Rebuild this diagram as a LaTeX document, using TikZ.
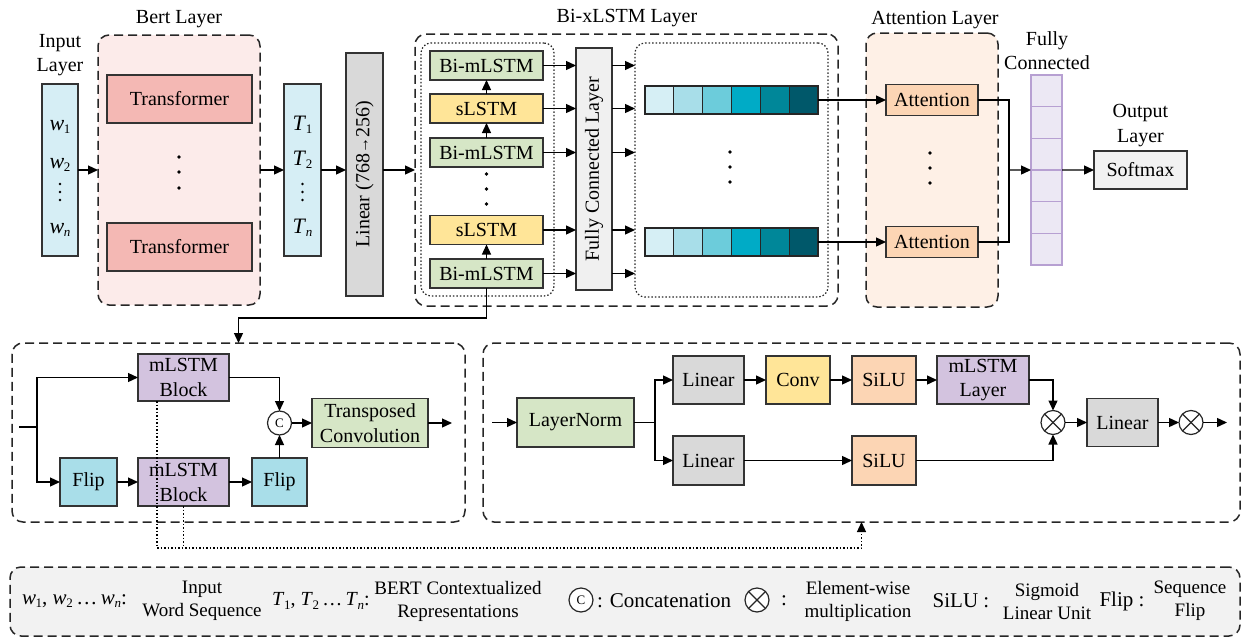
\documentclass[tikz,border=0pt]{standalone}
\usepackage{fontspec}
\setmainfont{Liberation Serif}
\usetikzlibrary{arrows.meta,calc}
\definecolor{pinkbg}{HTML}{FCEBEA}
\definecolor{trans}{HTML}{F4B8B4}
\definecolor{lblue}{HTML}{D6EEF5}
\definecolor{lgray}{HTML}{D9D9D9}
\definecolor{lgreen}{HTML}{D6E6C6}
\definecolor{lyellow}{HTML}{FFE598}
\definecolor{fcgray}{HTML}{F0F0F0}
\definecolor{peachbg}{HTML}{FEF0E6}
\definecolor{peach}{HTML}{FCD5B4}
\definecolor{fcpur}{HTML}{ECE8F4}
\definecolor{fcpurdraw}{HTML}{B7A0D2}
\definecolor{mpurple}{HTML}{D3C3DF}
\definecolor{flipcyan}{HTML}{A9DEE9}
\definecolor{legbg}{HTML}{F2F2F2}
\definecolor{ca}{HTML}{D6EFF5}
\definecolor{cb}{HTML}{A8DEE9}
\definecolor{cc}{HTML}{6CCCDB}
\definecolor{cd}{HTML}{00ABC6}
\definecolor{ce}{HTML}{008799}
\definecolor{cf}{HTML}{00586A}
\newcommand\vsub[2]{\textit{#1}\kern-0.3pt\raisebox{-0.35ex}{\fontsize{13}{13}\selectfont #2}}
\newcommand\smallarr{\raisebox{0.1ex}{\fontsize{16}{16}\selectfont →}}
\begin{document}
\begin{tikzpicture}[x=1pt,y=-1pt,
  every node/.style={font=\fontsize{20}{24}\selectfont, inner sep=0pt, outer sep=0pt},
  box/.style={draw=black!80, line width=1.1pt, rectangle, align=center},
  con/.style={line width=1.3pt, -{Triangle[length=10pt,width=9pt]}},
  ln/.style={line width=1.3pt},
  grp/.style={draw=black!85, line width=1.5pt, dash pattern=on 9pt off 5pt, rounded corners=11pt},
  dgrp/.style={draw=black!85, line width=1.2pt, dash pattern=on 1.5pt off 2pt, rounded corners=10pt},
  dotl/.style={line width=1.3pt, dash pattern=on 1.5pt off 2pt},
  bigdot/.style={circle, fill=black, minimum size=3.8pt},
  smalldot/.style={circle, fill=black, minimum size=2.6pt},
  cell/.style={draw=black!85, line width=1.1pt, minimum width=28.83pt, minimum height=28pt},
  fccell/.style={draw=fcpurdraw, fill=fcpur, line width=1.3pt, minimum width=31pt, minimum height=31.67pt},
  concat/.style={circle, draw=black!85, fill=white, line width=1.2pt, minimum size=24pt, font=\fontsize{13}{13}\selectfont},
  otimes/.style={circle, draw=black!85, fill=white, line width=1.2pt, minimum size=24pt,
    path picture={\draw[line width=1.2pt] ($(path picture bounding box.center)+(45:12pt)$) -- ($(path picture bounding box.center)+(225:12pt)$);
                  \draw[line width=1.2pt] ($(path picture bounding box.center)+(135:12pt)$) -- ($(path picture bounding box.center)+(-45:12pt)$);}},
  lgd/.style={font=\fontsize{19}{23}\selectfont, align=center},
  lgdm/.style={font=\fontsize{21}{23}\selectfont, align=center},
]
\useasboundingbox (0,0) rectangle (1253,643);

% ---------------- group boxes ----------------
\node[grp, fill=pinkbg, minimum width=162pt, minimum height=270pt] (bert) at (179,170) {};
\node (bertlab) at (179,19) {Bert Layer};
\node[grp, minimum width=423pt, minimum height=272pt] (bix) at (626.5,170) {};
\node (bixlab) at (627,18) {Bi-xLSTM Layer};
\node[dgrp, minimum width=133pt, minimum height=253pt] (ldot) at (487.5,169.5) {};
\node[dgrp, minimum width=193pt, minimum height=254pt] (rdot) at (731.5,170) {};
\node[grp, fill=peachbg, minimum width=132pt, minimum height=274pt] (attg) at (932,170) {};
\node (attlab) at (935,20) {Attention Layer};

% ---------------- input ----------------
\node[align=center, font=\fontsize{20}{24}\selectfont] (inlab) at (60,55) {Input\\Layer};
\node[box, fill=lblue, minimum width=36pt, minimum height=172pt] (inp) at (60,170) {};
\node[font=\fontsize{22}{24}\selectfont] (w1) at (60,127) {\vsub{w}{1}};
\node[font=\fontsize{22}{24}\selectfont] (w2) at (60,165) {\vsub{w}{2}};
\node[smalldot] (wd1) at (60,184) {};
\node[smalldot] (wd2) at (60,192) {};
\node[smalldot] (wd3) at (60,200) {};
\node[font=\fontsize{22}{24}\selectfont] (wn) at (60,230) {\vsub{w}{\textit{n}}};

% ---------------- bert ----------------
\node[box, fill=trans, minimum width=145pt, minimum height=48pt] (tr1) at (179.5,99) {Transformer};
\node[box, fill=trans, minimum width=145pt, minimum height=48pt] (tr2) at (179.5,247) {Transformer};
\node[bigdot] (bd1) at (179,157) {};
\node[bigdot] (bd2) at (179,172) {};
\node[bigdot] (bd3) at (179,188) {};

% ---------------- T ----------------
\node[box, fill=lblue, minimum width=37pt, minimum height=172pt] (tb) at (302.5,170) {};
\node[font=\fontsize{22}{24}\selectfont] (t1) at (302.5,125) {\vsub{T}{1}};
\node[font=\fontsize{22}{24}\selectfont] (t2) at (302.5,160) {\vsub{T}{2}};
\node[smalldot] (td1) at (302.5,184) {};
\node[smalldot] (td2) at (302.5,192) {};
\node[smalldot] (td3) at (302.5,200) {};
\node[font=\fontsize{22}{24}\selectfont] (tn) at (302.5,228) {\vsub{T}{\textit{n}}};

% ---------------- linear ----------------
\node[box, fill=lgray, minimum width=37pt, minimum height=243pt] (lin) at (364.5,174.5) {};
\node[rotate=90] (lintext) at (lin) {Linear (768\smallarr256)};

% ---------------- Bi-xLSTM stack ----------------
\node[box, fill=lgreen, minimum width=113pt, minimum height=29pt] (b1) at (486.5,65.5) {Bi-mLSTM};
\node[box, fill=lyellow, minimum width=113pt, minimum height=29pt] (s1) at (486.5,108.5) {sLSTM};
\node[box, fill=lgreen, minimum width=113pt, minimum height=29pt] (b2) at (486.5,152.5) {Bi-mLSTM};
\node[bigdot] (sd1) at (486.5,174) {};
\node[bigdot] (sd2) at (486.5,189) {};
\node[bigdot] (sd3) at (486.5,204) {};
\node[box, fill=lyellow, minimum width=113pt, minimum height=29pt] (s2) at (486.5,230) {sLSTM};
\node[box, fill=lgreen, minimum width=113pt, minimum height=29pt] (b3) at (486.5,273.5) {Bi-mLSTM};
\node[box, fill=fcgray, minimum width=36pt, minimum height=242pt] (fcl) at (594,169) {};
\node[rotate=90] (fcltext) at (fcl) {Fully Connected Layer};

% colour bars
\foreach \i/\c in {1/ca,2/cb,3/cc,4/cd,5/ce,6/cf}{
  \node[cell, fill=\c] (ta\i) at ({645+28.83*(\i-0.5)},100) {};
  \node[cell, fill=\c] (ub\i) at ({645+28.83*(\i-0.5)},242) {};
}
\node[bigdot] (rd1) at (730,152) {};
\node[bigdot] (rd2) at (730,167) {};
\node[bigdot] (rd3) at (730,182) {};

% ---------------- attention ----------------
\node[box, fill=peach, minimum width=92pt, minimum height=31pt] (att1) at (932,100) {Attention};
\node[box, fill=peach, minimum width=92pt, minimum height=31pt] (att2) at (932,242) {Attention};
\node[bigdot] (ad1) at (930,153) {};
\node[bigdot] (ad2) at (930,168) {};
\node[bigdot] (ad3) at (930,183) {};

% ---------------- fully connected + output ----------------
\node[align=center, font=\fontsize{20}{24}\selectfont] (fclab) at (1047,51) {Fully\\Connected};
\foreach \i in {1,...,6}{
  \node[fccell] (fc\i) at (1046.5,{75+31.67*(\i-0.5)}) {};
}
\node[align=center, font=\fontsize{20}{25}\selectfont] (outlab) at (1140.5,125.5) {Output\\Layer};
\node[box, fill=legbg, minimum width=93pt, minimum height=38pt] (soft) at (1140.5,170) {Softmax};

% ---------------- top connectors ----------------
\draw[con] (inp.east) -- (bert.west);
\draw[con] (bert.east) -- (tb.west);
\draw[con] (tb.east) -- (tb.east -| lin.west);
\draw[con] (lin.east |- tb.east) -- (bix.west);
\draw[con] (s1.north) -- (b1.south);
\draw[con] (b2.north) -- (s1.south);
\draw[con] (b3.north) -- (s2.south);
\foreach \n in {b1,s1,b2,s2,b3}{
  \draw[con] (\n.east) -- (\n.east -| fcl.west);
  \draw[con] (\n.east -| fcl.east) -- (\n.east -| rdot.west);
}
\draw[con] (ta6.east) -- (att1.west);
\draw[con] (ub6.east) -- (att2.west);
\coordinate (jn) at (1009,170);
\draw[ln] (att1.east) -| (jn);
\draw[ln] (att2.east) -| (jn);
\draw[con] (jn) -- (fc3.south west);
\draw[con] (fc3.south east) -- (soft.west);

% ---------------- bottom-left block ----------------
\node[grp, minimum width=453pt, minimum height=179pt] (blbox) at (238.5,432.5) {};
\draw[con] (b3.south) -- ++(0,30) -| (blbox.north);
\node[box, fill=mpurple, minimum width=91pt, minimum height=47pt, font=\fontsize{20}{25}\selectfont] (mt) at (183.5,377.5) {mLSTM\\Block};
\node[box, fill=flipcyan, minimum width=57pt, minimum height=48pt] (f1) at (88.5,482) {Flip};
\node[box, fill=mpurple, minimum width=91pt, minimum height=48pt, font=\fontsize{20}{25}\selectfont] (mb) at (183.5,482) {mLSTM\\Block};
\node[box, fill=flipcyan, minimum width=55pt, minimum height=48pt] (f2) at (279.5,482) {Flip};
\node[concat] (cat) at (279.5,423) {C};
\node[box, fill=lgreen, minimum width=116pt, minimum height=49pt, font=\fontsize{20}{25}\selectfont] (tc) at (370,423) {Transposed\\Convolution};
\coordinate (in1) at (19,427);
\coordinate (br1) at (37,427);
\draw[ln] (in1) -- (br1);
\draw[con] (br1) |- (mt.west);
\draw[con] (br1) |- (f1.west);
\draw[con] (f1) -- (mb);
\draw[con] (mb) -- (f2);
\draw[con] (mt.east) -| (cat.north);
\draw[con] (f2.north) -- (cat.south);
\draw[con] (cat) -- (tc);
\coordinate (out1) at (452,423);
\draw[con] (tc.east) -- (out1);

% ---------------- bottom-right block ----------------
\node[grp, minimum width=757pt, minimum height=179pt] (brbox) at (861.5,432.5) {};
\node[box, fill=lgreen, minimum width=117pt, minimum height=49pt] (lnorm) at (575.5,422.5) {LayerNorm};
\node[box, fill=lgray, minimum width=71pt, minimum height=48pt] (l1) at (708.5,380) {Linear};
\node[box, fill=lyellow, minimum width=64pt, minimum height=48pt] (cv) at (798,380) {Conv};
\node[box, fill=peach, minimum width=64pt, minimum height=48pt] (si1) at (884,380) {SiLU};
\node[box, fill=mpurple, minimum width=92pt, minimum height=48pt, font=\fontsize{20}{24}\selectfont] (ml) at (983,380) {mLSTM\\Layer};
\node[box, fill=lgray, minimum width=71pt, minimum height=49pt] (l2) at (708.5,460.5) {Linear};
\node[box, fill=peach, minimum width=64pt, minimum height=49pt] (si2) at (884,460.5) {SiLU};
\node[otimes] (ox1) at (1053,422.5) {};
\node[box, fill=lgray, minimum width=71pt, minimum height=48pt] (l3) at (1122.5,422.5) {Linear};
\node[otimes] (ox2) at (1191,422.5) {};
\coordinate (in2) at (492,422.5);
\coordinate (br2) at (655,422.5);
\coordinate (out2) at (1227,422.5);
\draw[con] (in2) -- (lnorm.west);
\draw[ln] (lnorm.east) -- (br2);
\draw[con] (br2) |- (l1.west);
\draw[con] (br2) |- (l2.west);
\draw[con] (l1) -- (cv);
\draw[con] (cv) -- (si1);
\draw[con] (si1) -- (ml);
\draw[con] (ml.east) -| (ox1.north);
\draw[con] (l2) -- (si2);
\draw[con] (si2.east) -| (ox1.south);
\draw[con] (ox1) -- (l3);
\draw[con] (l3) -- (ox2);
\draw[con] (ox2.east) -- (out2);

% ---------------- dotted link ----------------
\coordinate (d1) at (157,548);
\coordinate (d2) at (183.5,548);
\coordinate (d3) at (861.5,548);
\draw[dotl] ($(mt.south west)+(19,0)$) -- (d1);
\draw[dotl] (mb.south) -- (d2);
\draw[dotl, -{Triangle[length=10pt,width=9pt]}] (d1) -- (d3) -- (brbox.south);

% ---------------- legend ----------------
\node[grp, fill=legbg, minimum width=1230pt, minimum height=69pt] (leg) at (625,601.5) {};
\node[lgdm, anchor=west] (lw) at (22,601) {\vsub{w}{1}, \vsub{w}{2}\,\ldots\,\vsub{w}{\textit{n}}:};
\node[lgd] (lws) at (202,601) {Input\\Word Sequence};
\node[lgdm, anchor=west, font=\fontsize{20}{23}\selectfont] (lt) at (272,601) {\vsub{T}{1}, \vsub{T}{2}\,\ldots\,\vsub{T}{\textit{n}}:};
\node[lgd] (lbert) at (458,601) {BERT Contextualized\\Representations};
\node[concat] (lc) at (581,600) {C};
\node[lgdm, anchor=west] (lconc) at (597,601) {: Concatenation};
\node[otimes] (lox) at (757,600) {};
\node[lgdm] (lcol) at (784,601) {:};
\node[lgd] (lew) at (858,601) {Element-wise\\multiplication};
\node[lgdm] (lsilu) at (961,601) {SiLU :};
\node[lgd] (lsig) at (1047,601) {Sigmoid\\Linear Unit};
\node[lgdm] (lflip) at (1122,601) {Flip :};
\node[lgd] (lseq) at (1190,601) {Sequence\\Flip};
\end{tikzpicture}
\end{document}
